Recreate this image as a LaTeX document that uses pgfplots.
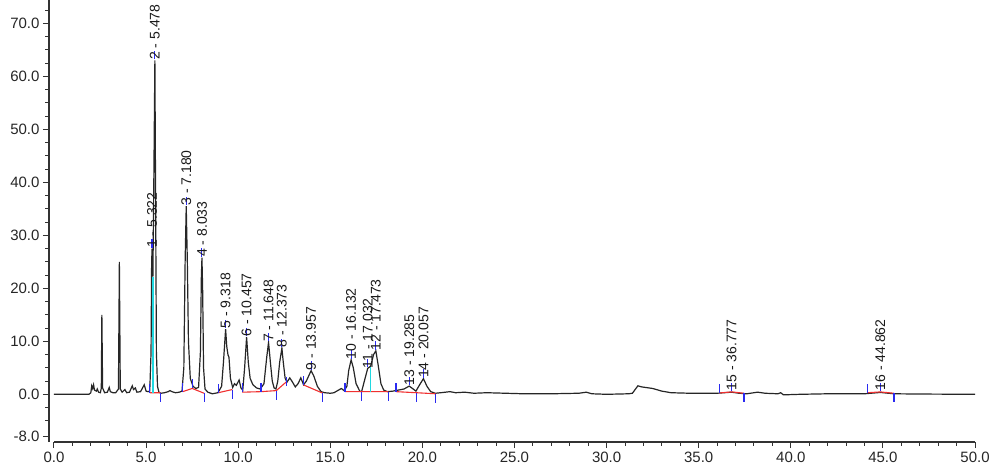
\documentclass[border=0pt]{standalone}
\usepackage{pgfplots}
\pgfplotsset{compat=1.18}
\usepackage{pgfplotstable}
\usepackage{fontspec}
\setmainfont{Liberation Sans}
\definecolor{trace}{HTML}{262626}
\definecolor{axcol}{HTML}{333333}
\definecolor{basered}{HTML}{F03030}
\definecolor{tickblue}{HTML}{2A2AF0}
\definecolor{dropcyan}{HTML}{20D8E0}

\pgfplotstableread{
t y
0.0 0.0
1.0 0.0
1.9 0.0
2.0 0.3
2.05 1.6
2.1 1.1
2.15 1.8
2.2 0.8
2.3 0.6
2.35 1.0
2.42 0.4
2.52 0.3
2.57 1.2
2.6 15.0
2.64 1.2
2.75 0.3
2.9 0.4
3.0 1.3
3.06 0.5
3.2 0.3
3.35 0.3
3.5 1.0
3.55 25.0
3.6 1.0
3.7 0.4
3.85 0.9
3.95 0.3
4.1 0.4
4.25 1.6
4.32 0.9
4.42 1.2
4.5 0.4
4.7 0.5
4.9 1.8
5.0 0.6
5.1 0.5
5.2 0.6
5.27 8.0
5.30 24.0
5.322 27.5
5.35 24.0
5.37 22.2
5.42 40.0
5.478 63.0
5.52 35.0
5.56 8.0
5.62 1.5
5.7 0.4
5.8 0.2
6.0 0.3
6.2 0.5
6.3 0.7
6.4 0.5
6.6 0.3
6.8 0.4
6.95 0.6
7.05 5.0
7.12 25.0
7.18 35.5
7.24 25.0
7.3 10.0
7.4 3.0
7.55 1.5
7.7 1.1
7.85 1.3
7.95 8.0
8.00 22.0
8.033 25.8
8.07 20.0
8.12 5.0
8.2 1.0
8.35 0.4
8.6 0.1
8.9 0.3
9.1 1.5
9.2 6.0
9.318 12.3
9.38 9.0
9.45 7.4
9.5 7.0
9.58 3.0
9.7 1.3
9.8 2.0
9.9 1.7
10.05 2.7
10.15 1.2
10.25 0.8
10.35 5.0
10.457 10.8
10.55 6.0
10.65 3.0
10.8 1.8
11.0 1.2
11.2 1.0
11.4 2.0
11.55 7.0
11.648 9.8
11.75 6.0
11.85 2.5
11.95 1.2
12.05 1.0
12.15 2.5
12.25 6.0
12.373 8.7
12.45 6.0
12.55 3.0
12.65 2.3
12.8 3.1
12.95 2.3
13.1 1.4
13.25 2.0
13.4 3.1
13.55 1.8
13.7 2.5
13.957 4.45
14.1 3.5
14.3 1.5
14.5 0.5
14.7 0.3
15.0 0.2
15.2 0.3
15.45 0.8
15.6 1.1
15.75 0.7
15.9 1.5
16.0 4.5
16.132 6.5
16.25 5.0
16.4 2.0
16.6 0.6
16.7 0.5
16.85 2.5
17.032 4.9
17.19 5.3
17.35 7.5
17.473 8.2
17.6 5.5
17.75 2.0
17.9 0.8
18.1 0.5
18.4 0.6
18.7 0.8
19.0 1.0
19.285 1.55
19.5 1.0
19.65 0.6
19.85 1.8
20.057 2.95
20.25 1.5
20.45 0.5
20.7 0.2
21.0 0.3
21.5 0.5
21.8 0.3
22.3 0.4
22.8 0.2
23.5 0.3
24.5 0.2
25.5 0.1
27.0 0.1
28.5 0.2
28.9 0.4
29.2 0.1
30.0 0.0
31.2 0.1
31.4 0.2
31.7 1.6
31.9 1.4
32.5 1.1
33.0 0.6
33.5 0.3
34.5 0.2
36.0 0.2
36.777 0.4
37.2 0.2
37.6 0.1
38.2 0.4
38.6 0.2
39.3 0.1
39.45 0.3
39.6 -0.1
40.5 0.0
42.0 0.1
44.0 0.1
44.862 0.35
45.6 0.1
47.0 0.05
50.0 0.0
}\trace

\begin{document}
\begin{tikzpicture}[x=1pt,y=1pt]
\path[use as bounding box] (0,0) rectangle (995,-471);
\begin{axis}[
  at={(49pt,-442pt)}, anchor=south west,
  scale only axis, width=926pt, height=442pt,
  xmin=-0.27, xmax=50, ymin=-9, ymax=74.4,
  axis x line*=bottom, axis y line*=left,
  x axis line style={-, shorten <=5pt, line width=1.2pt, axcol},
  y axis line style={-, line width=1.2pt, axcol},
  xtick={0,5,...,50}, minor x tick num=4,
  ytick={-8,0,10,20,30,40,50,60,70},
  minor ytick={-5,-2.5,...,72.5},
  tick align=outside,
  major tick length=6pt, minor tick length=3.5pt,
  tick style={line width=1pt, axcol},
  /pgf/number format/fixed, /pgf/number format/fixed zerofill,
  /pgf/number format/precision=1, /pgf/number format/assume math mode=true,
  ticklabel style={font=\fontsize{15}{17}\selectfont, text=black!85},
  clip=false,
  unbounded coords=jump,
]
% trace
\addplot[trace, line width=1.2pt] table[x=t,y=y] {\trace};
% integration baselines
\addplot[basered, line width=1.1pt] coordinates {
(5.21,0.3) (5.77,0.3) (5.77,nan)
(6.98,0.5) (7.51,1.1) (8.15,0.2) (8.15,nan)
(8.92,0.3) (9.68,0.9) (9.68,nan)
(10.22,0.4) (11.24,0.5) (12.07,0.7) (12.6,2.3) (12.6,nan)
(13.53,1.8) (14.6,0.2) (14.6,nan)
(15.8,0.5) (16.7,0.5) (18.15,0.5) (18.15,nan)
(18.57,0.5) (19.67,0.3) (20.72,0.1) (20.72,nan)
(36.12,0.25) (36.8,0.45) (37.46,0.2) (37.46,nan)
(44.17,0.3) (44.86,0.45) (45.6,0.2)
};
% drop lines
\addplot[dropcyan, line width=1.3pt] coordinates {
(5.37,0.3) (5.37,22.2) (5.37,nan)
(17.19,0.5) (17.19,5.2)
};
% integration boundary ticks
\addplot[tickblue, line width=1.1pt] coordinates {
(5.21,0.3) (5.21,2.0) (5.21,nan)
(5.77,0.3) (5.77,-1.4) (5.77,nan)
(6.98,0.5) (6.98,2.2) (6.98,nan)
(7.51,1.1) (7.51,2.8) (7.51,nan)
(8.15,0.2) (8.15,-1.5) (8.15,nan)
(8.92,0.3) (8.92,2.0) (8.92,nan)
(9.68,0.9) (9.68,-0.8) (9.68,nan)
(10.22,0.4) (10.22,2.1) (10.22,nan)
(11.24,0.5) (11.24,2.2) (11.24,nan)
(12.07,0.7) (12.07,-1.0) (12.07,nan)
(12.6,1.6) (12.6,3.3) (12.6,nan)
(13.53,1.8) (13.53,3.5) (13.53,nan)
(14.6,0.2) (14.6,-1.5) (14.6,nan)
(15.8,0.5) (15.8,2.2) (15.8,nan)
(16.7,0.5) (16.7,-1.2) (16.7,nan)
(18.15,0.5) (18.15,-1.2) (18.15,nan)
(18.57,0.5) (18.57,2.2) (18.57,nan)
(19.67,0.3) (19.67,-1.4) (19.67,nan)
(20.72,0.1) (20.72,-1.6) (20.72,nan)
(36.12,0.25) (36.12,2.0) (36.12,nan)
(37.46,0.2) (37.46,-1.5) (37.46,nan)
(44.17,0.3) (44.17,2.0) (44.17,nan)
(45.6,0.2) (45.6,-1.5)
};
% apex markers
\addplot[tickblue, line width=1.1pt] coordinates {
(5.322,27.7) (5.322,29.3) (5.322,nan)
(5.478,63.2) (5.478,64.8) (5.478,nan)
(7.18,35.7) (7.18,37.3) (7.18,nan)
(8.033,26.0) (8.033,27.6) (8.033,nan)
(9.318,12.5) (9.318,14.1) (9.318,nan)
(10.457,11.0) (10.457,12.6) (10.457,nan)
(11.648,10.0) (11.648,11.6) (11.648,nan)
(12.373,8.9) (12.373,10.5) (12.373,nan)
(13.957,4.65) (13.957,6.25) (13.957,nan)
(16.132,6.7) (16.132,8.3) (16.132,nan)
(17.032,5.1) (17.032,6.7) (17.032,nan)
(17.473,8.4) (17.473,10.0) (17.473,nan)
(19.285,1.75) (19.285,3.35) (19.285,nan)
(20.057,3.15) (20.057,4.75) (20.057,nan)
(36.777,0.6) (36.777,2.2) (36.777,nan)
(44.862,0.6) (44.862,2.2)
};
% peak labels
\begin{scope}[every node/.style={rotate=90, anchor=west, inner sep=0.5pt, font=\fontsize{14}{16}\selectfont, text=black!90}]
\node at (axis cs:5.322,27.5) {1 - 5.322};
\node at (axis cs:5.478,63.0) {2 - 5.478};
\node at (axis cs:7.18,35.5) {3 - 7.180};
\node at (axis cs:8.033,25.8) {4 - 8.033};
\node at (axis cs:9.318,12.3) {5 - 9.318};
\node at (axis cs:10.457,10.8) {6 - 10.457};
\node at (axis cs:11.648,9.8) {7 - 11.648};
\node at (axis cs:12.373,8.7) {8 - 12.373};
\node at (axis cs:13.957,4.45) {9 - 13.957};
\node at (axis cs:16.132,6.5) {10 - 16.132};
\node at (axis cs:17.032,4.8) {11 - 17.032};
\node at (axis cs:17.473,8.2) {12 - 17.473};
\node at (axis cs:19.285,1.55) {13 - 19.285};
\node at (axis cs:20.057,2.95) {14 - 20.057};
\node at (axis cs:36.777,0.6) {15 - 36.777};
\node at (axis cs:44.862,0.6) {16 - 44.862};
\end{scope}
\end{axis}
\end{tikzpicture}
\end{document}
